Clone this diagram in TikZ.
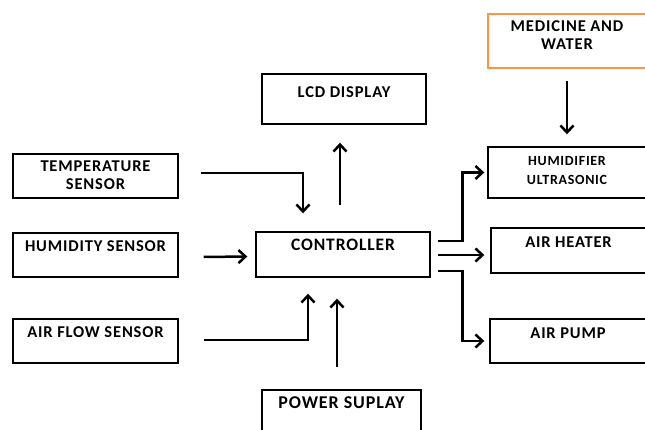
\documentclass[tikz,border=0pt]{standalone}
\usepackage{fontspec}
\newfontfamily\boxfont{Carlito}[LetterSpace=5]
\usepackage{tikz}
\usetikzlibrary{arrows.meta, positioning, calc}
\definecolor{medorange}{RGB}{247, 150, 70}

\tikzset{
    blk/.style={draw=black, line width=1.4pt, inner sep=0pt},
    txt/.style={font=\boxfont\bfseries\fontsize{16.5}{18}\selectfont, align=center, inner sep=0pt},
    arr/.style={-{Straight Barb[length=7pt, width=13pt]}, line width=2.5pt}
}

\begin{document}
\begin{tikzpicture}[x=1pt, y=-1pt]
    \useasboundingbox (0,0) rectangle (645,430);
    \fill[white] (0,0) rectangle (645,430);
    \clip (0,0) rectangle (645,430);

    % --- Sensors ---
    \node[blk, minimum width=165, minimum height=44] (temp) at (95.5,176) {};
    \node[txt, below=7pt of temp.north] (temptxt) {TEMPERATURE\\SENSOR};
    \node[blk, minimum width=165, minimum height=44] (hum) at (95.5,255) {};
    \node[txt, below=8pt of hum.north] (humtxt) {HUMIDITY SENSOR};
    \node[blk, minimum width=165, minimum height=44] (air) at (95.5,341) {};
    \node[txt, below=8pt of air.north] (airtxt) {AIR FLOW SENSOR};

    % --- Controller, display, power ---
    \node[blk, minimum width=174, minimum height=45] (ctrl) at (343,254.5) {};
    \node[txt, font=\boxfont\bfseries\fontsize{17.5}{19}\selectfont, below=8pt of ctrl.north] (ctrltxt) {CONTROLLER};
    \node[blk, minimum width=164, minimum height=50] (lcd) at (344,99) {};
    \node[txt, below=13pt of lcd.north] (lcdtxt) {LCD DISPLAY};
    \node[blk, minimum width=159, minimum height=50] (power) at (341.5,415) {};
    \node[txt, font=\boxfont\bfseries\fontsize{18}{20}\selectfont, below=7pt of power.north] (powertxt) {POWER SUPLAY};

    % --- Outputs ---
    \node[blk, draw=medorange, minimum width=158, minimum height=54] (med) at (567,41) {};
    \node[txt, below=7pt of med.north] (medtxt) {MEDICINE AND\\WATER};
    \node[blk, minimum width=158, minimum height=51] (humid) at (567,172.5) {};
    \node[txt, font=\boxfont\bfseries\fontsize{14}{19}\selectfont, below=10pt of humid.north] (humidtxt) {HUMIDIFIER\\ULTRASONIC};
    \node[blk, minimum width=155, minimum height=45] (heater) at (568.5,250.5) {};
    \node[txt, below=9pt of heater.north] (heatertxt) {AIR HEATER};
    \node[blk, minimum width=156, minimum height=44] (pump) at (568,341) {};
    \node[txt, below=9pt of pump.north] (pumptxt) {AIR PUMP};

    % --- Connectors into the controller ---
    \draw[arr] ($(temp.east)+(22,-3)$) -| ([xshift=-40, yshift=18]ctrl.north);
    \draw[arr] ($(hum.east)+(25,2)$) -- ($(ctrl.west)+(-8,2)$);
    \draw[arr] ($(air.east)+(25,-1)$) -| ([xshift=-35, yshift=-16]ctrl.south);
    \draw[arr] ([xshift=-4.5, yshift=22]power.north) -- ([xshift=-6, yshift=-21]ctrl.south);
    \draw[arr] ([xshift=-3, yshift=26]ctrl.north) -- ([xshift=-4, yshift=-18]lcd.south);

    % --- Connectors out of the controller ---
    \coordinate (heatstart) at ($(ctrl.east)+(7,0.5)$);
    \draw[arr] ([yshift=-12]med.south) -- ([yshift=12]humid.north);
    \draw[arr] ($(ctrl.east)+(7,-13.5)$) -| ([xshift=-25]humid.west) -- ([xshift=-3]humid.west);
    \draw[arr, shorten >=6pt] (heatstart) -- (heatstart -| heater.west);
    \draw[arr] ($(ctrl.east)+(7,16.5)$) -| ([xshift=-27]pump.west) -- ([xshift=-5]pump.west);
\end{tikzpicture}
\end{document}
